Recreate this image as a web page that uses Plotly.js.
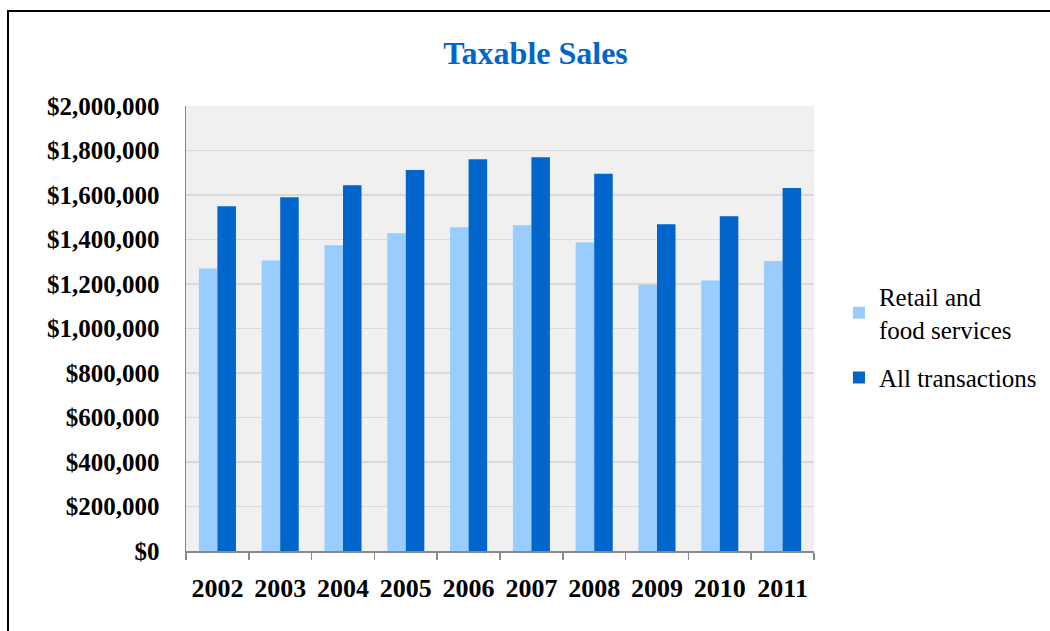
<!DOCTYPE html>
<html>
<head>
<meta charset="utf-8">
<script src="https://cdn.plot.ly/plotly-3.0.1.min.js"></script>
<style>
  html, body { margin: 0; padding: 0; background: #fff; }
  #wrap { position: relative; width: 1050px; height: 631px; overflow: hidden; }
  #chart { width: 1050px; height: 631px; }
  #frame { position: absolute; left: 7px; top: 10px; width: 1100px; height: 700px;
           border-left: 2px solid #000; border-top: 2px solid #000; pointer-events: none; }
</style>
</head>
<body>
<div id="wrap">
  <div id="chart"></div>
  <div id="frame"></div>
</div>
<script>
const years = ['2002','2003','2004','2005','2006','2007','2008','2009','2010','2011'];
const retailFood = [1270000, 1306000, 1374000, 1428000, 1455000, 1464000, 1387000, 1197000, 1216000, 1303000];
const allTransactions = [1549000, 1590000, 1644000, 1712000, 1761000, 1770000, 1695000, 1468000, 1504000, 1632000];
const seriesNames = ['Retail and<br>food services', 'All transactions'];
const yTicks = [0, 200000, 400000, 600000, 800000, 1000000, 1200000, 1400000, 1600000, 1800000, 2000000];
const yTickLabels = ['$0', '$200,000', '$400,000', '$600,000', '$800,000', '$1,000,000',
                     '$1,200,000', '$1,400,000', '$1,600,000', '$1,800,000', '$2,000,000'];

const serif = 'Liberation Serif, Times New Roman, serif';

const traces = [
  { type: 'bar', name: seriesNames[0], x: years, y: retailFood, legendgroup: 'g1',
    marker: { color: '#99CCFF', line: { width: 0 } }, hoverinfo: 'x+y' },
  { type: 'bar', name: seriesNames[1], x: years, y: allTransactions, legendgroup: 'g2',
    marker: { color: '#0066CC', line: { width: 0 } }, hoverinfo: 'x+y' }
];

const layout = {
  width: 1050, height: 631,
  margin: { l: 186, r: 236, t: 106, b: 80, autoexpand: false },
  paper_bgcolor: 'rgba(0,0,0,0)',
  plot_bgcolor: '#F0F0F0',
  barmode: 'group',
  bargap: 0.41,
  bargroupgap: 0,
  showlegend: true,
  title: {
    text: 'Taxable Sales',
    font: { family: serif, size: 32, color: '#0066CC', weight: 'bold' },
    x: 0.51, xref: 'container', xanchor: 'center',
    y: 0.917, yref: 'container', yanchor: 'middle'
  },
  xaxis: {
    type: 'category',
    tickangle: 0,
    tickfont: { family: serif, size: 26, color: '#000', weight: 'bold' },
    ticks: 'outside', ticklen: 7, tickcolor: '#888', tickwidth: 1.5,
    tickson: 'boundaries',
    ticklabelstandoff: 13,
    showline: true, linecolor: '#888', linewidth: 1.5,
    showgrid: false, zeroline: false
  },
  yaxis: {
    range: [0, 2000000],
    tickmode: 'array',
    tickvals: yTicks,
    ticktext: yTickLabels,
    tickfont: { family: serif, size: 25, color: '#000', weight: 'bold' },
    ticks: '', ticklabelstandoff: 20,
    showline: true, linecolor: '#888', linewidth: 1.5,
    showgrid: true, gridcolor: '#D9D9D9', gridwidth: 1.5,
    zeroline: false, fixedrange: true
  },
  legend: {
    xref: 'container', x: 0.799, xanchor: 'left',
    yref: 'container', y: 0.566, yanchor: 'top',
    font: { family: serif, size: 25, color: '#000' },
    traceorder: 'grouped',
    tracegroupgap: 13, itemwidth: 30,
    bgcolor: 'rgba(0,0,0,0)'
  }
};

Plotly.newPlot('chart', traces, layout, { displayModeBar: false, staticPlot: true });
</script>
</body>
</html>
